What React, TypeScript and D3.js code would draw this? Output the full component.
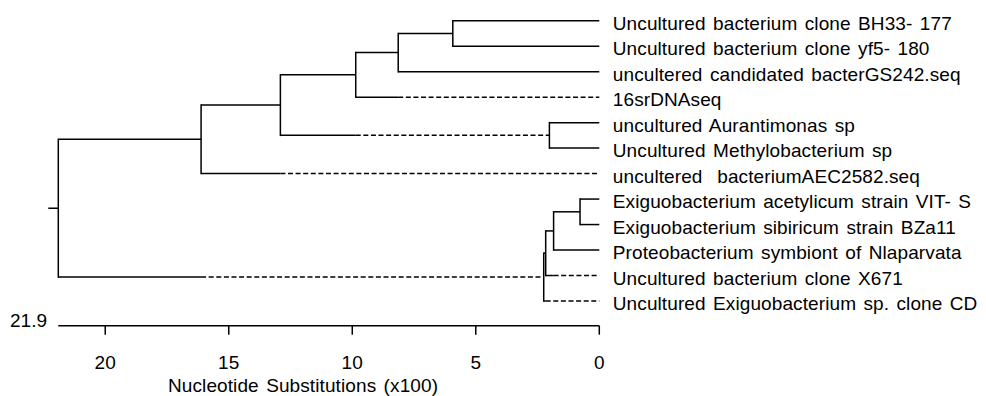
import React from "react";
import * as d3 from "d3";

// Leaf labels, top to bottom
const leafNames = [
  "Uncultured bacterium clone BH33- 177",
  "Uncultured bacterium clone yf5- 180",
  "uncultered candidated bacterGS242.seq",
  "16srDNAseq",
  "uncultured Aurantimonas sp",
  "Uncultured Methylobacterium sp",
  "uncultered  bacteriumAEC2582.seq",
  "Exiguobacterium acetylicum strain VIT- S",
  "Exiguobacterium sibiricum strain BZa11",
  "Proteobacterium symbiont of Nlaparvata",
  "Uncultured bacterium clone X671",
  "Uncultured Exiguobacterium sp. clone CD",
];

// Internal nodes: id, children, height (substitutions x100)
const nodeIds = ["A", "B", "C", "E", "D", "F", "H", "I", "J", "K", "root"];
const nodeChildren = [
  ["Uncultured bacterium clone BH33- 177", "Uncultured bacterium clone yf5- 180"],
  ["A", "uncultered candidated bacterGS242.seq"],
  ["B", "16srDNAseq"],
  ["uncultured Aurantimonas sp", "Uncultured Methylobacterium sp"],
  ["C", "E"],
  ["D", "uncultered  bacteriumAEC2582.seq"],
  ["Exiguobacterium acetylicum strain VIT- S", "Exiguobacterium sibiricum strain BZa11"],
  ["H", "Proteobacterium symbiont of Nlaparvata"],
  ["I", "Uncultured bacterium clone X671"],
  ["J", "Uncultured Exiguobacterium sp. clone CD"],
  ["F", "K"],
];
const nodeHeights = [5.93, 8.14, 9.86, 2.02, 12.91, 16.12, 0.78, 1.85, 2.17, 2.25, 21.9];

// Edges drawn partly dashed (solid up to the sibling's depth)
const dashedEdges = [
  "16srDNAseq",
  "E",
  "uncultered  bacteriumAEC2582.seq",
  "Uncultured bacterium clone X671",
  "Uncultured Exiguobacterium sp. clone CD",
  "K",
];

const tickValues = [20, 15, 10, 5, 0];
const axisMax = 21.9;
const axisTitle = "Nucleotide Substitutions (x100)";

const FONT = "'Liberation Sans', Arial, Helvetica, sans-serif";

export default function App() {
  const W = 986;
  const H = 396;
  const x = d3.scaleLinear().domain([axisMax, 0]).range([58.3, 599.3]);
  const yLeaf = d3.scalePoint<string>().domain(leafNames).range([20.7, 301]);

  const heightOf = new Map<string, number>();
  const childrenOf = new Map<string, string[]>();
  leafNames.forEach((n) => heightOf.set(n, 0));
  nodeIds.forEach((id, i) => {
    heightOf.set(id, nodeHeights[i]);
    childrenOf.set(id, nodeChildren[i]);
  });
  const yCache = new Map<string, number>();
  const yOf = (id: string): number => {
    if (yCache.has(id)) return yCache.get(id)!;
    let v: number;
    if (childrenOf.has(id)) {
      const ch = childrenOf.get(id)!;
      v = d3.mean(ch.map(yOf))!;
    } else v = yLeaf(id)!;
    yCache.set(id, v);
    return v;
  };

  const lines: React.ReactNode[] = [];
  const sw = 1.5;
  nodeIds.forEach((id, i) => {
    const ch = nodeChildren[i];
    const hp = nodeHeights[i];
    const ys = ch.map(yOf);
    lines.push(
      <line key={id + "-v"} x1={x(hp)} x2={x(hp)} y1={d3.min(ys)} y2={d3.max(ys)} stroke="#000" strokeWidth={sw} strokeLinecap="square" />
    );
    ch.forEach((c, j) => {
      const hc = heightOf.get(c)!;
      const yc = ys[j];
      if (dashedEdges.includes(c)) {
        const sib = ch[1 - j];
        const hs = Math.max(heightOf.get(sib)!, hc);
        lines.push(
          <line key={c + "-s"} x1={x(hp)} x2={x(hs)} y1={yc} y2={yc} stroke="#000" strokeWidth={sw} />
        );
        lines.push(
          <line key={c + "-d"} x1={x(hs)} x2={x(hc)} y1={yc} y2={yc} stroke="#000" strokeWidth={sw} strokeDasharray="5,2.6" />
        );
      } else {
        lines.push(
          <line key={c + "-s"} x1={x(hp)} x2={x(hc)} y1={yc} y2={yc} stroke="#000" strokeWidth={sw} />
        );
      }
    });
  });

  const rootY = yOf("root");
  const axisY = 325.7;
  const fs = 19;
  const textStyle: React.CSSProperties = { letterSpacing: "0.1px", wordSpacing: "2px" };

  return (
    <svg width={W} height={H} style={{ position: "absolute", left: 0, top: 0, background: "#fff" }} fontFamily={FONT}>
      <rect width={W} height={H} fill="#fff" />
      {lines}
      <line x1={x(axisMax) - 10} x2={x(axisMax)} y1={rootY} y2={rootY} stroke="#000" strokeWidth={sw} />
      {leafNames.map((n) => (
        <text key={n} x={x(0) + 13.5} y={yLeaf(n)! + 9} fontSize={fs} fill="#000" style={{ ...textStyle, whiteSpace: "pre" }}>
          {n}
        </text>
      ))}
      <line x1={x(axisMax)} x2={x(0)} y1={axisY} y2={axisY} stroke="#000" strokeWidth={sw} />
      {tickValues.map((t) => (
        <g key={t}>
          <line x1={x(t)} x2={x(t)} y1={axisY} y2={axisY + 9} stroke="#000" strokeWidth={sw} />
          <text x={x(t)} y={369} textAnchor="middle" fontSize={fs} fill="#000" style={textStyle}>
            {t}
          </text>
        </g>
      ))}
      <text x={x(axisMax) - 11} y={326.5} textAnchor="end" fontSize={fs} fill="#000" style={textStyle}>
        {axisMax}
      </text>
      <text x={168} y={392} fontSize={fs} fill="#000" style={textStyle}>
        {axisTitle}
      </text>
    </svg>
  );
}
